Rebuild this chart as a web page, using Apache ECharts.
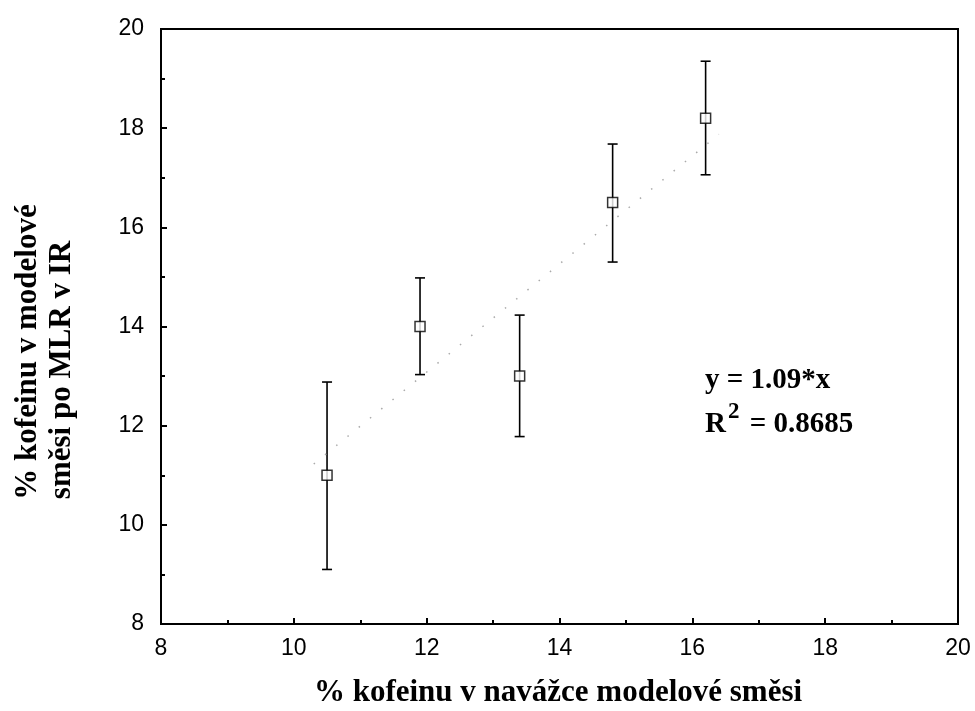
<!DOCTYPE html>
<html><head><meta charset="utf-8">
<script src="https://cdn.jsdelivr.net/npm/echarts@6/dist/echarts.min.js"></script>
<style>html,body{margin:0;padding:0;background:#fff}#c{width:975px;height:711px}</style>
</head><body><div id="c"></div>
<script>
const xVals = [10.5, 11.9, 13.4, 14.8, 16.2];
const yVals = [11.0, 14.0, 13.0, 16.5, 18.2];
const errLow = [9.1, 13.03, 11.78, 15.3, 17.06];
const errHigh = [12.88, 14.98, 14.23, 17.68, 19.35];
const fitSlope = 1.09;
const fitRange = [10.3, 16.4];
const xTicks = [8, 10, 12, 14, 16, 18, 20];
const yTicks = [8, 10, 12, 14, 16, 18, 20];

const chart = echarts.init(document.getElementById('c'));
const pts = xVals.map((x, i) => [x, yVals[i]]);
const errs = xVals.map((x, i) => [x, errLow[i], errHigh[i]]);
const fit = fitRange.map(x => [x, fitSlope * x]);

const axisCommon = {
  axisLine: {show: true, lineStyle: {color: '#000', width: 2}},
  axisTick: {show: true, inside: true, length: 6, lineStyle: {color: '#000', width: 2}},
  minorTick: {show: true, splitNumber: 2, length: 4, lineStyle: {color: '#000', width: 2}},
  splitLine: {show: false}
};
const labelFont = {color: '#000', fontFamily: '"Liberation Sans", Arial, sans-serif', fontSize: 23};

chart.setOption({
  animation: false,
  grid: {left: 161, right: 17, top: 29, bottom: 87, show: true, borderColor: '#000', borderWidth: 2, backgroundColor: 'transparent'},
  xAxis: Object.assign({type: 'value', min: xTicks[0], max: xTicks[xTicks.length-1], interval: 2}, axisCommon,
    {axisLabel: Object.assign({}, labelFont, {margin: 13})}),
  yAxis: Object.assign({type: 'value', min: yTicks[0], max: yTicks[yTicks.length-1], interval: 2}, axisCommon,
    {axisLabel: Object.assign({}, labelFont, {margin: 17})}),
  series: [
    {type: 'line', data: fit, symbol: 'none', silent: true,
      lineStyle: {color: '#aaa', width: 1.5, type: [1.5, 13]}},
    {type: 'custom', data: errs, z: 3,
      renderItem: function (params, api) {
        const x = api.value(0);
        const lo = api.coord([x, api.value(1)]);
        const hi = api.coord([x, api.value(2)]);
        const w = 5;
        const st = {stroke: '#000', lineWidth: 1.6};
        return {type: 'group', children: [
          {type: 'line', shape: {x1: lo[0], y1: lo[1], x2: hi[0], y2: hi[1]}, style: st},
          {type: 'line', shape: {x1: lo[0]-w, y1: lo[1], x2: lo[0]+w, y2: lo[1]}, style: st},
          {type: 'line', shape: {x1: hi[0]-w, y1: hi[1], x2: hi[0]+w, y2: hi[1]}, style: st}
        ]};
      }},
    {type: 'scatter', data: pts, symbol: 'rect', symbolSize: 10, z: 5,
      itemStyle: {color: '#fff', borderColor: '#000', borderWidth: 1.5}}
  ],
  graphic: [
    {type: 'text', x: 558, y: 693,
      style: {text: '% kofeinu v navážce modelové směsi', font: 'bold 31px "Liberation Serif", "Times New Roman", serif', fill: '#000', align: 'center', verticalAlign: 'middle'}},
    {type: 'text', x: 28, y: 352, rotation: Math.PI/2,
      style: {text: '% kofeinu v modelové', font: 'bold 31px "Liberation Serif", serif', fill: '#000', align: 'center', verticalAlign: 'middle'}},
    {type: 'text', x: 62, y: 370, rotation: Math.PI/2,
      style: {text: 'směsi po MLR v IR', font: 'bold 31px "Liberation Serif", serif', fill: '#000', align: 'center', verticalAlign: 'middle'}},
    {type: 'text', x: 705, y: 381,
      style: {text: 'y = 1.09*x', font: 'bold 29px "Liberation Serif", serif', fill: '#000', verticalAlign: 'middle'}},
    {type: 'text', x: 705, y: 420,
      style: {text: '{b|R}{s|2}{b| = 0.8685}', verticalAlign: 'middle', fill: '#000',
        rich: {b: {font: 'bold 29px "Liberation Serif", serif', fill: '#000', verticalAlign: 'bottom'},
               s: {font: 'bold 23px "Liberation Serif", serif', fill: '#000', verticalAlign: 'top', padding: [0, 3, 16, 2]}}}}
  ]
});
</script></body></html>
